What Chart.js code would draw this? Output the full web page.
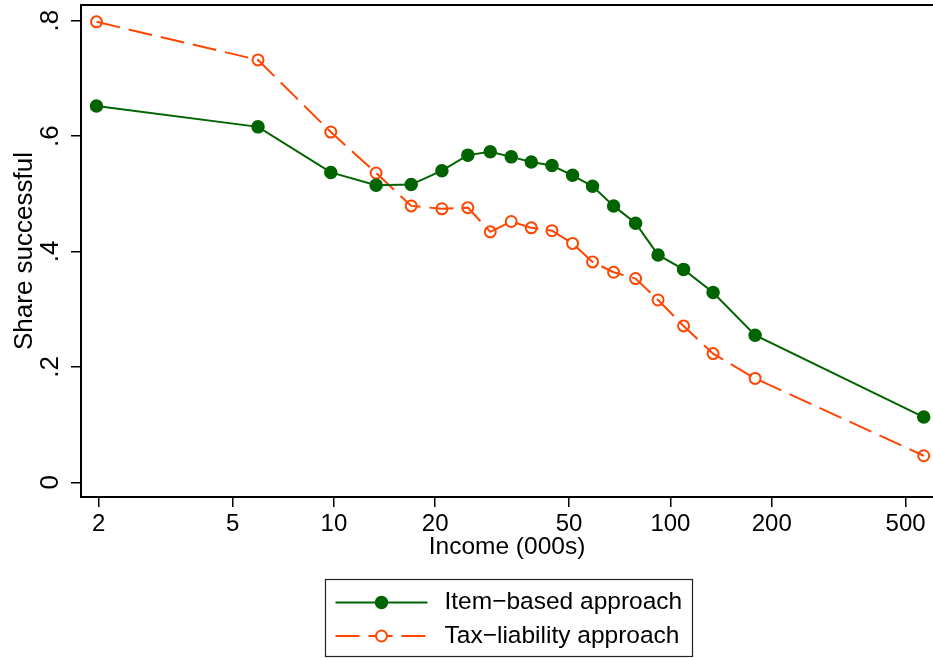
<!DOCTYPE html>
<html>
<head>
<meta charset="utf-8">
<title>Share successful by income</title>
<script src="https://cdn.jsdelivr.net/npm/chart.js@4.4.1/dist/chart.umd.min.js"></script>
<style>
  html, body { margin: 0; padding: 0; background: #fff; overflow: hidden; }
  #wrap { width: 933px; height: 658px; }
</style>
</head>
<body>
<div id="wrap"><canvas id="myChart" width="933" height="658"></canvas></div>
<script>
// income bins (000s) and share successful for each approach
var incomes = [1.97, 5.95, 9.79, 13.35, 16.97, 20.94, 25.0, 29.15, 33.65, 38.6, 44.46, 51.2, 58.7, 67.8, 78.8, 91.9, 109.4, 133.9, 178.5, 566];
var itemBased = [0.652, 0.616, 0.537, 0.515, 0.516, 0.540, 0.567, 0.573, 0.564, 0.555, 0.549, 0.532, 0.513, 0.479, 0.449, 0.394, 0.369, 0.329, 0.255, 0.113];
var taxLiability = [0.798, 0.732, 0.607, 0.536, 0.479, 0.474, 0.476, 0.434, 0.452, 0.441, 0.436, 0.414, 0.382, 0.364, 0.353, 0.316, 0.271, 0.223, 0.180, 0.046];
var seriesNames = ["Item\u2212based approach", "Tax\u2212liability approach"];
var xTicks = [2, 5, 10, 20, 50, 100, 200, 500];
var yTicks = [0, 0.2, 0.4, 0.6, 0.8];
var yTickLabels = ["0", ".2", ".4", ".6", ".8"];

var fontFamily = "'Liberation Sans', Arial, Helvetica, sans-serif";
var green = "#006400";
var orange = "#ff4500";

function toPoints(values) {
  return incomes.map(function(x, i) { return { x: x, y: values[i] }; });
}

// top edge of the plot region frame
var frameTop = {
  id: "frameTop",
  afterDraw: function(chart) {
    var ctx = chart.ctx, a = chart.chartArea;
    ctx.save();
    ctx.strokeStyle = "#000";
    ctx.lineWidth = 2;
    ctx.beginPath();
    ctx.moveTo(a.left - 1, a.top);
    ctx.lineTo(a.right, a.top);
    ctx.stroke();
    ctx.restore();
  }
};

// boxed legend with line + marker samples, stacked in one column
var legendBox = {
  id: "legendBox",
  afterDraw: function(chart) {
    var ctx = chart.ctx, a = chart.chartArea;
    var w = 367, h = 77;
    var left = Math.round((a.left + a.right) / 2 + 1 - w / 2) + 0.5;
    var top = a.bottom + 82.5;
    ctx.save();
    ctx.strokeStyle = "#222";
    ctx.lineWidth = 1.2;
    ctx.strokeRect(left, top, w, h);
    chart.data.datasets.forEach(function(ds, i) {
      var y = top + 23 + i * 33.5;
      var x0 = left + 10, x1 = left + 102, xm = (x0 + x1) / 2;
      ctx.strokeStyle = ds.borderColor;
      ctx.lineWidth = ds.borderWidth;
      ctx.setLineDash(ds.borderDash || []);
      ctx.beginPath();
      ctx.moveTo(x0, y);
      ctx.lineTo(x1, y);
      ctx.stroke();
      ctx.setLineDash([]);
      ctx.beginPath();
      ctx.arc(xm, y, ds.pointRadius, 0, 2 * Math.PI);
      ctx.fillStyle = ds.pointBackgroundColor === "rgba(0,0,0,0)" ? "#fff" : ds.pointBackgroundColor;
      ctx.fill();
      ctx.lineWidth = ds.pointBorderWidth;
      ctx.strokeStyle = ds.pointBorderColor;
      ctx.stroke();
      ctx.fillStyle = "#000";
      ctx.font = "24.5px " + fontFamily;
      ctx.textBaseline = "middle";
      ctx.textAlign = "left";
      ctx.fillText(ds.label, left + 119, y);
    });
    ctx.restore();
  }
};

var ctx = document.getElementById("myChart").getContext("2d");
var myChart = new Chart(ctx, {
  type: "line",
  data: {
    datasets: [{
      label: seriesNames[0],
      data: toPoints(itemBased),
      borderColor: green,
      backgroundColor: green,
      pointBackgroundColor: green,
      pointBorderColor: green,
      borderWidth: 2,
      pointRadius: 6,
      pointBorderWidth: 1.5,
      tension: 0
    }, {
      label: seriesNames[1],
      data: toPoints(taxLiability),
      borderColor: orange,
      backgroundColor: orange,
      borderDash: [24, 9],
      pointBackgroundColor: "rgba(0,0,0,0)",
      pointBorderColor: orange,
      borderWidth: 2,
      pointRadius: 5.5,
      pointBorderWidth: 2,
      tension: 0
    }]
  },
  options: {
    responsive: false,
    animation: false,
    devicePixelRatio: 1,
    layout: { autoPadding: false, padding: { left: 0, right: 0, top: 5, bottom: 96 } },
    plugins: {
      legend: { display: false },
      tooltip: { enabled: false }
    },
    scales: {
      x: {
        type: "logarithmic",
        min: 1.772,
        max: 603,
        afterBuildTicks: function(s) {
          s.ticks = xTicks.map(function(v) { return { value: v }; });
        },
        afterFit: function(s) {
          s.height = 65;
          s.paddingLeft = 0;
          s.paddingRight = 0;
        },
        ticks: {
          callback: function(v) { return String(v); },
          autoSkip: false,
          maxRotation: 0,
          padding: 3,
          color: "#000",
          font: { family: fontFamily, size: 24 }
        },
        grid: { drawOnChartArea: false, tickLength: 10, color: "#000", lineWidth: 1.5 },
        border: { display: true, color: "#000", width: 2 },
        title: {
          display: true,
          text: "Income (000s)",
          color: "#000",
          font: { family: fontFamily, size: 24.5 },
          padding: 0
        }
      },
      y: {
        min: -0.0255,
        max: 0.8272,
        afterBuildTicks: function(s) {
          s.ticks = yTicks.map(function(v) { return { value: v }; });
        },
        afterFit: function(s) {
          s.width = 81;
          s.paddingTop = 0;
          s.paddingBottom = 0;
        },
        ticks: {
          callback: function(v) { return yTickLabels[yTicks.indexOf(v)]; },
          minRotation: 90,
          maxRotation: 90,
          crossAlign: "center",
          padding: 9,
          color: "#000",
          font: { family: fontFamily, size: 26 }
        },
        grid: { drawOnChartArea: false, tickLength: 10, color: "#000", lineWidth: 1.5 },
        border: { display: true, color: "#000", width: 2 },
        title: {
          display: true,
          text: "Share successful",
          color: "#000",
          font: { family: fontFamily, size: 26 },
          padding: { top: 9, bottom: 0 }
        }
      }
    }
  },
  plugins: [frameTop, legendBox]
});
</script>
</body>
</html>
